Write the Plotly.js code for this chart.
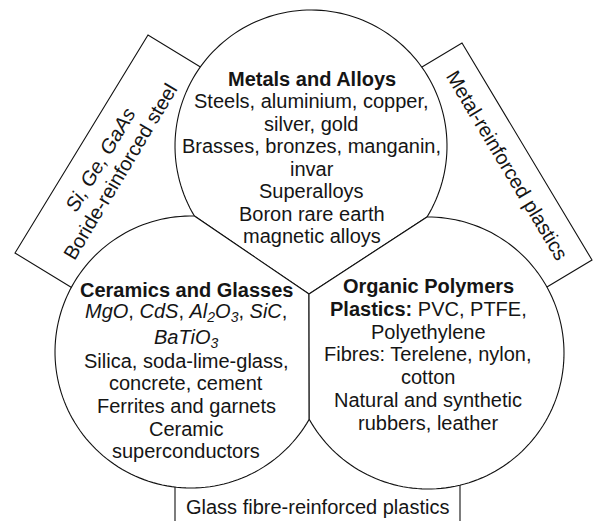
<!DOCTYPE html>
<html>
<head>
<meta charset="utf-8">
<script src="https://cdn.plot.ly/plotly-3.0.1.min.js"></script>
<style>html,body{margin:0;padding:0;background:#fff;}#chart{width:594px;height:521px;}</style>
</head>
<body>
<div id="chart"></div>
<script>
// ---- text content ----
const metalsLines = ["<b>Metals and Alloys</b>", "Steels, aluminium, copper,", "silver, gold",
  "Brasses, bronzes, manganin,", "invar", "Superalloys", "Boron rare earth", "magnetic alloys"];
const ceramicsLines = ["<b>Ceramics and Glasses</b>",
  "<i>MgO</i>, <i>CdS</i>, <i>Al<sub>2</sub>O<sub>3</sub></i>, <i>SiC</i>,",
  "<i>BaTiO<sub>3</sub></i>", "Silica, soda-lime-glass,", "concrete, cement",
  "Ferrites and garnets", "Ceramic", "superconductors"];
const polymersLines = ["<b>Organic Polymers</b>", "<b>Plastics:</b> PVC, PTFE,", "Polyethylene",
  "Fibres: Terelene, nylon,", "cotton", "Natural and synthetic", "rubbers, leather"];
const leftBoxLines = ["<i>Si, Ge, GaAs</i>", "Boride-reinforced steel"];
const rightBoxLines = ["Metal-reinforced plastics"];
const bottomBoxLines = ["Glass fibre-reinforced plastics"];

// ---- layout geometry (pixel-like data units) ----
const W = 594, H = 521;
const R = 136;
const cTop = [311, 146], cLeft = [191, 352], cRight = [428, 353];
const V = [309, 294];
const FONT = "Liberation Sans, Arial, sans-serif";
const FS = 20;
const INK = "#151515";

function outerIntersection(c1, c2, away) {
  const dx = c2[0]-c1[0], dy = c2[1]-c1[1];
  const d = Math.hypot(dx, dy);
  const a = d/2, h = Math.sqrt(R*R - a*a);
  const mx = c1[0]+dx/2, my = c1[1]+dy/2;
  const px = -dy/d, py = dx/d;
  const p1 = [mx+h*px, my+h*py], p2 = [mx-h*px, my-h*py];
  return Math.hypot(p1[0]-away[0], p1[1]-away[1]) > Math.hypot(p2[0]-away[0], p2[1]-away[1]) ? p1 : p2;
}
const pTL = outerIntersection(cTop, cLeft, V);
const pTR = outerIntersection(cTop, cRight, V);
const pB  = outerIntersection(cLeft, cRight, V);

function arc(c, p0, p1, dir) {
  let a0 = Math.atan2(p0[1]-c[1], p0[0]-c[0]);
  let a1 = Math.atan2(p1[1]-c[1], p1[0]-c[0]);
  if (dir > 0) { while (a1 <= a0) a1 += 2*Math.PI; }
  else { while (a1 >= a0) a1 -= 2*Math.PI; }
  const n = 120, pts = [];
  for (let i = 0; i <= n; i++) {
    const a = a0 + (a1-a0)*i/n;
    pts.push([c[0]+R*Math.cos(a), c[1]+R*Math.sin(a)]);
  }
  return pts;
}
function pathOf(pts, closed) {
  return "M " + pts.map(p => p[0].toFixed(2)+","+p[1].toFixed(2)).join(" L ") + (closed ? " Z" : "");
}

const topRegion = [pTL, ...arc(cTop, pTL, pTR, +1), V];
const leftRegion = [pTL, V, pB, ...arc(cLeft, pB, pTL, +1)];
const rightRegion = [pTR, V, pB, ...arc(cRight, pB, pTR, -1)];

// open band: inner corner -> outer corner -> outer corner -> inner corner (inner ends hidden under circles)
function band(a, b, width) {
  const dx = b[0]-a[0], dy = b[1]-a[1], L = Math.hypot(dx, dy);
  const px = (-dy/L)*width, py = (dx/L)*width;
  return [[a[0]+px, a[1]+py], a, b, [b[0]+px, b[1]+py]];
}
const leftBand = band([148, 35], [15, 253], -72);
const rightBand = band([462, 43], [592, 260], 72);

const lineStyle = {color: "#111", width: 1.1};
const shapes = [];
shapes.push({type: "path", path: pathOf(leftBand, false), line: lineStyle, fillcolor: "rgba(0,0,0,0)", layer: "above"});
shapes.push({type: "path", path: pathOf(rightBand, false), line: lineStyle, fillcolor: "rgba(0,0,0,0)", layer: "above"});
shapes.push({type: "line", x0: 175, x1: 175, y0: 470, y1: 530, line: lineStyle, layer: "above"});
shapes.push({type: "line", x0: 460, x1: 460, y0: 470, y1: 530, line: lineStyle, layer: "above"});
[topRegion, leftRegion, rightRegion].forEach(r =>
  shapes.push({type: "path", path: pathOf(r, true), line: lineStyle, fillcolor: "#fff", layer: "above"}));

const annotations = [];
function addBlock(lines, x, y0, step, extra) {
  let y = y0;
  lines.forEach((t, i) => {
    if (extra && extra[i]) y += extra[i];
    annotations.push({x: x, y: y, text: t, showarrow: false, xanchor: "center", yanchor: "middle",
      font: {family: FONT, size: FS, color: INK}});
    y += step;
  });
}
addBlock(metalsLines, 311.5, 79, 22.45);
addBlock(ceramicsLines, 186, 290, 22.6, [0, 0, 3]);
addBlock(polymersLines, 428, 286, 22.8);

function addRot(text, x, y, ang) {
  annotations.push({x: x, y: y, text: text, showarrow: false, xanchor: "center", yanchor: "middle",
    textangle: ang, font: {family: FONT, size: FS, color: INK}});
}
addRot(leftBoxLines[0], 100, 160, -59);
addRot(leftBoxLines[1], 120, 172, -59);
addRot(rightBoxLines[0], 507, 165, 59);
addRot(bottomBoxLines[0], 317.5, 507, 0);

const layout = {
  width: W, height: H,
  margin: {l: 0, r: 0, t: 0, b: 0},
  paper_bgcolor: "#fff", plot_bgcolor: "#fff",
  showlegend: false,
  xaxis: {range: [0, W], showgrid: false, zeroline: false, showticklabels: false, ticks: "", showline: false, fixedrange: true},
  yaxis: {range: [H, 0], showgrid: false, zeroline: false, showticklabels: false, ticks: "", showline: false, fixedrange: true},
  shapes: shapes,
  annotations: annotations
};
Plotly.newPlot("chart", [{x: [], y: [], type: "scatter", mode: "markers", hoverinfo: "skip"}], layout, {staticPlot: true, displayModeBar: false});
</script>
</body>
</html>
